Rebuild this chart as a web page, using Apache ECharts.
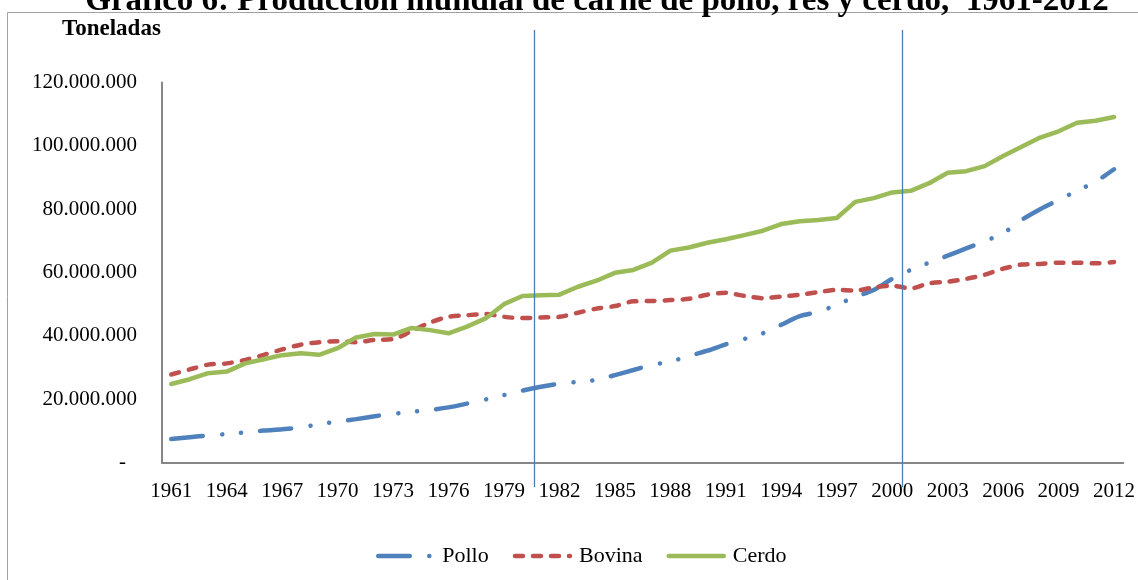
<!DOCTYPE html>
<html>
<head>
<meta charset="utf-8">
<script src="https://cdn.jsdelivr.net/npm/echarts@6/dist/echarts.min.js"></script>
<style>
html,body{margin:0;padding:0;background:#fff;}
#chart{width:1138px;height:580px;}
</style>
</head>
<body>
<div id="chart"></div>
<script>
// ---- data (millions of tonnes) ----
const years = [];
for (let y = 1961; y <= 2012; y++) years.push(String(y));

const pollo = [7.4, 8.0, 8.5, 9.0, 9.5, 10.1, 10.5, 11.1, 12.1, 12.9,
  13.7, 14.6, 15.4, 16.0, 16.6, 17.4, 18.6, 19.9, 21.3, 22.7,
  23.9, 24.9, 25.5, 26.1, 27.6, 29.2, 30.8, 31.9, 33.6, 35.3,
  37.3, 39.0, 40.8, 43.5, 46.2, 47.6, 49.8, 52.3, 54.5, 58.0,
  60.8, 63.1, 65.3, 67.6, 69.9, 72.4, 76.6, 80.0, 82.9, 85.8,
  88.7, 92.6];
const bovina = [27.8, 29.4, 30.9, 31.3, 32.4, 34.0, 35.7, 37.2, 38.0, 38.3,
  38.0, 38.7, 39.0, 41.5, 44.2, 46.0, 46.5, 46.9, 46.0, 45.6,
  45.8, 46.0, 47.3, 48.6, 49.4, 50.9, 51.0, 51.3, 51.7, 53.0,
  53.6, 52.6, 51.9, 52.4, 53.0, 53.8, 54.5, 54.3, 55.3, 55.8,
  55.0, 56.6, 57.1, 58.0, 59.3, 61.2, 62.5, 62.7, 63.1, 63.1,
  62.9, 63.3];
const cerdo = [24.8, 26.3, 28.2, 28.7, 31.3, 32.6, 33.9, 34.5, 34.0, 36.1,
  39.5, 40.6, 40.4, 42.5, 41.8, 40.8, 42.9, 45.5, 50.0, 52.6,
  52.8, 53.0, 55.5, 57.4, 59.9, 60.8, 63.1, 66.9, 67.9, 69.4,
  70.5, 71.8, 73.2, 75.3, 76.2, 76.6, 77.2, 82.3, 83.5, 85.3,
  85.8, 88.2, 91.5, 92.0, 93.6, 96.8, 99.7, 102.6, 104.6, 107.3,
  107.9, 109.1];
const seriesNames = ['Pollo', 'Bovina', 'Cerdo'];
const yTicks = [0, 20000000, 40000000, 60000000, 80000000, 100000000, 120000000];
const dividerYears = [1980.62, 2000.52];
const titleText = 'Gráfico 6: Producción mundial de carne de pollo, res y cerdo,  1961-2012';
const unitText = 'Toneladas';

const toT = a => a.map(v => Math.round(v * 1e6));
const FONT = 'Liberation Serif';

function fmt(v) {
  if (v === 0) return '{d|-}';
  return String(Math.round(v)).replace(/\B(?=(\d{3})+(?!\d))/g, '.');
}

const chart = echarts.init(document.getElementById('chart'), null, {renderer: 'canvas'});
const option = {
  animation: false,
  backgroundColor: '#fff',
  textStyle: {fontFamily: FONT, color: '#000'},
  grid: {left: 162, right: 10, top: 82.5, bottom: 117.5, containLabel: false},
  legend: {
    data: seriesNames,
    left: 376, top: 545, padding: 0,
    itemWidth: 55, itemHeight: 14, itemGap: 24,
    itemStyle: {opacity: 0},
    lineStyle: {width: 4.5, cap: 'round'},
    textStyle: {fontFamily: FONT, fontSize: 22, color: '#000', padding: [0, 0, 0, 4]}
  },
  xAxis: {
    type: 'category',
    data: years,
    boundaryGap: true,
    axisLine: {lineStyle: {color: '#868686', width: 2}},
    axisTick: {show: false},
    axisLabel: {interval: 2, margin: 18, fontFamily: FONT, fontSize: 21, color: '#000'}
  },
  yAxis: {
    type: 'value',
    min: yTicks[0], max: yTicks[yTicks.length - 1], interval: yTicks[1] - yTicks[0],
    splitLine: {show: false},
    axisLine: {show: true, lineStyle: {color: '#868686', width: 2}},
    axisTick: {show: false},
    axisLabel: {
      margin: 25, fontFamily: FONT, fontSize: 21, color: '#000',
      formatter: fmt,
      rich: {d: {fontFamily: FONT, fontSize: 21, color: '#000', padding: [0, 11, 0, 0]}}
    }
  },
  series: [
    {
      name: 'Pollo', type: 'line', data: toT(pollo), symbol: 'none', smooth: 0.3,
      itemStyle: {color: '#4F81BD'},
      lineStyle: {color: '#4F81BD', width: 4.5, type: [31.5, 19.5, 0.1, 18.7, 0.1, 19], cap: 'round'}
    },
    {
      name: 'Bovina', type: 'line', data: toT(bovina), symbol: 'none', smooth: 0.3,
      itemStyle: {color: '#C0504D'},
      lineStyle: {color: '#C0504D', width: 4.5, type: [8, 10], cap: 'round'}
    },
    {
      name: 'Cerdo', type: 'line', data: toT(cerdo), symbol: 'none',
      itemStyle: {color: '#9BBB59'},
      lineStyle: {color: '#9BBB59', width: 4.5, cap: 'round', join: 'round'}
    }
  ]
};
chart.setOption(option);

function yearToPx(yr) {
  const i = yr - Number(years[0]);
  const i0 = Math.floor(i), f = i - i0;
  const p0 = chart.convertToPixel({xAxisIndex: 0}, i0);
  const p1 = chart.convertToPixel({xAxisIndex: 0}, i0 + 1);
  return p0 + (p1 - p0) * f;
}

const graphics = [
  {type: 'rect', z: -1, silent: true,
   shape: {x: 7.5, y: 12.5, width: 1200, height: 700},
   style: {fill: null, stroke: '#a0a0a0', lineWidth: 1}},
  {type: 'text', z: 10, silent: true,
   style: {text: titleText, x: 597, y: 18, align: 'center', verticalAlign: 'bottom',
           font: 'bold 33px "Liberation Serif"', fill: '#000'}},
  {type: 'text', z: 10, silent: true,
   style: {text: unitText, x: 62, y: 29, align: 'left', verticalAlign: 'middle',
           font: 'bold 23px "Liberation Serif"', fill: '#000'}}
];
dividerYears.forEach(yr => {
  const x = Math.round(yearToPx(yr)) + 0.5;
  graphics.push({type: 'line', z: 5, silent: true,
    shape: {x1: x, y1: 30, x2: x, y2: 487},
    style: {stroke: '#4A7EBB', lineWidth: 1.3}});
});
chart.setOption({graphic: graphics});
</script>
</body>
</html>
